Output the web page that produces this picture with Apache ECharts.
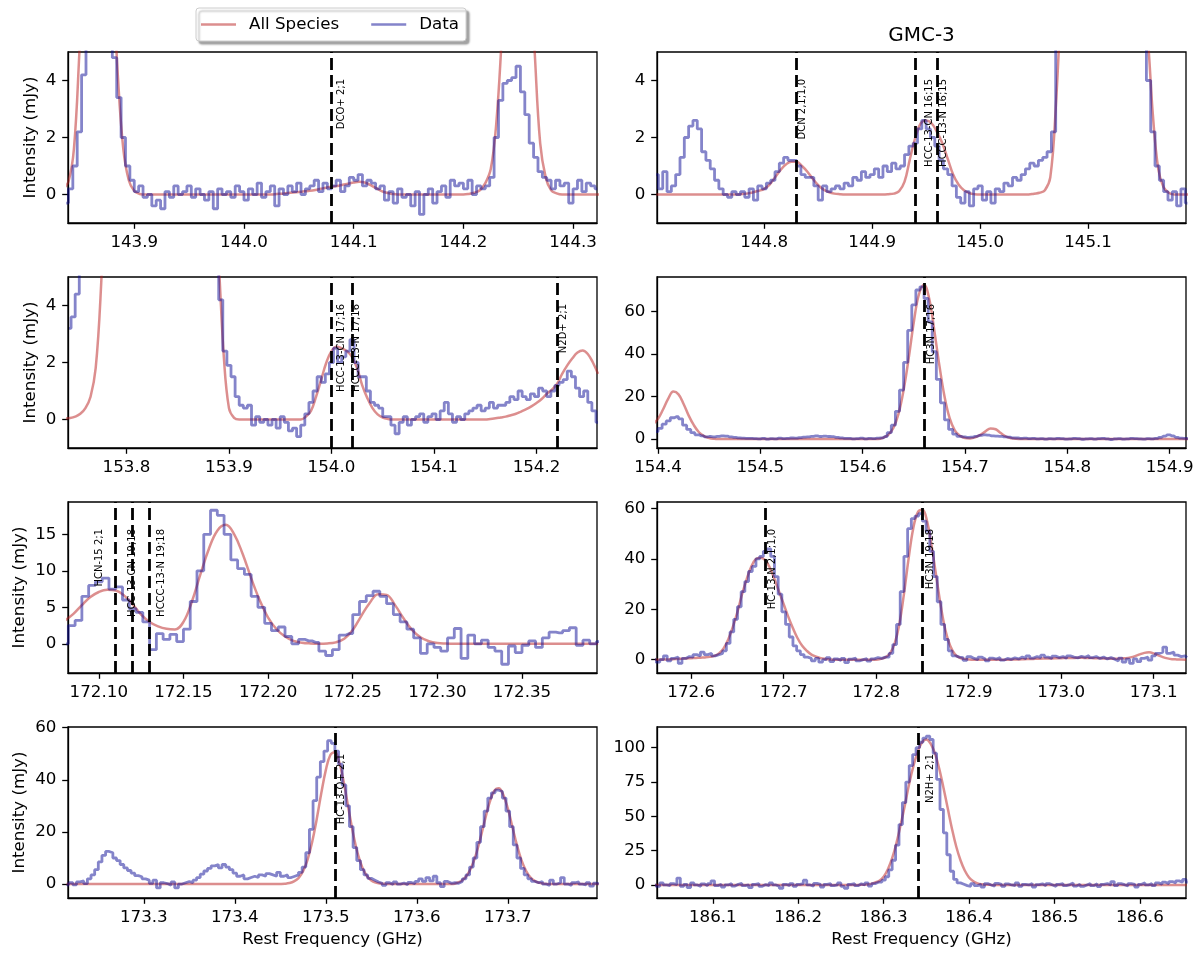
<!DOCTYPE html>
<html>
<head>
<meta charset="utf-8">
<title>GMC-3 spectra</title>
<script src="https://cdn.jsdelivr.net/npm/echarts@6/dist/echarts.min.js"></script>
<style>
  html, body { margin: 0; padding: 0; background: #fff; }
  #main { width: 1200px; height: 958px; }
</style>
</head>
<body>
<div id="main"></div>
<script>
// ---------------- data ----------------
// data: channel values on a regular grid (start freq, channel width)
// model: "All Species" fit, sampled on its own grid

// panel 1 : 143.84 - 144.32 GHz
var p1Freq0 = 143.838, p1Step = 0.004;
var p1Data = [
  -0.3,0.2,1.0,2.2,4.2,7.0,9.0,10.0,10.0,9.0,
  6.0,4.8,3.4,2.0,1.0,0.5,0.1,0.3,-0.1,0.0,
  -0.4,-0.2,-0.5,0.1,-0.1,0.3,0.0,0.1,0.3,-0.1,
  0.2,0.0,-0.2,0.1,-0.5,0.2,0.0,0.1,-0.1,0.3,
  0.1,-0.2,0.2,0.0,0.4,-0.1,0.1,0.3,-0.4,0.2,
  0.0,0.3,0.1,0.4,0.0,0.2,0.3,0.5,0.1,0.4,
  0.2,0.3,0.5,0.1,0.3,0.6,0.5,0.7,0.3,0.5,
  0.4,0.2,0.3,-0.2,0.1,-0.3,0.2,-0.1,0.0,-0.4,
  0.1,-0.7,0.0,0.2,-0.3,0.1,0.3,-0.1,0.5,0.3,
  0.4,0.2,0.5,0.0,0.3,0.2,0.3,0.6,2.0,3.3,
  3.9,4.0,4.1,4.5,3.6,2.8,1.8,1.3,0.8,0.6,
  0.5,0.2,0.5,0.3,0.4,-0.3,0.2,0.5,0.1,0.4,
  0.3,0.2
];
var p1ModelFreq0 = 143.835, p1ModelStep = 0.005;
var p1Model = [
  0.2,0.45,1.6,5.0,9,13,15,14,12,8,4.2,1.6,0.5,0.12,0.02,
  0,0,0,0,0,0,0,0,0,0,0,0,0,0,0,0,0,0,0,0,0,0,0,0,
  0.02,0.03,0.05,0.07,0.09,0.11,0.13,0.16,0.2,0.24,0.27,0.3,0.34,0.38,0.42,0.45,0.42,0.34,0.23,0.13,0.06,0.02,
  0,0,0,0,0,0,0,0,0,0,0,0,0,
  0.02,0.06,0.15,0.4,0.9,2.5,5.5,9,11,11.5,11,8.5,5.0,1.8,0.6,0.15,0.04,
  0,0,0,0,0,0,0,0
];

// panel 2 : 144.70 - 145.19 GHz
var p2Freq0 = 144.700, p2Step = 0.004;
var p2Data = [
  0.7,0.2,0.8,0.1,0.3,0.7,1.3,2.0,2.4,2.6,
  2.3,1.5,1.2,0.9,0.5,0.2,0.0,-0.1,0.1,0.0,
  0.1,-0.1,0.2,-0.2,0.3,0.2,0.4,0.5,0.8,1.1,
  1.3,1.2,1.2,1.0,0.7,0.6,0.6,0.3,-0.2,0.3,
  0.1,0.2,0.3,0.2,0.4,0.3,0.6,0.5,0.8,0.6,
  0.7,0.9,0.6,1.0,0.8,1.1,0.9,1.0,1.4,1.7,
  1.8,2.3,2.6,2.3,2.0,1.7,1.2,0.9,0.7,0.3,
  -0.1,-0.3,0.1,-0.4,0.2,0.3,-0.2,0.1,-0.3,0.2,
  0.1,0.4,0.3,0.6,0.5,0.7,0.9,1.1,1.0,1.2,
  1.3,1.5,2.2,5.5,12,20,28,34,38,40,
  41,40,38,35,31,27,22,18,14,11,
  8.5,7.5,7.0,5.8,4.0,2.2,1.0,0.5,0.1,-0.2,
  0.1,-0.4,0.2,-0.3
];
var p2ModelFreq0 = 144.700, p2ModelStep = 0.005;
var p2Model = [
  0,0,0,0,0,0,0,0,0,0,0,0,0,0,0,0,
  0.02,0.04,0.08,0.13,0.2,0.35,0.6,0.85,1.05,1.15,1.15,1.0,0.8,0.55,0.33,0.17,0.08,0.03,0.01,
  0,0,0,0,0,0,0,0,
  0.01,0.03,0.12,0.45,1.25,2.0,2.5,2.6,2.5,2.2,1.8,1.25,0.7,0.35,0.15,0.05,0.01,
  0,0,0,0,0,0,0,0,0,0,
  0.03,0.06,0.15,0.6,3.0,7,13,20,27,32,35,36,35,32,27,21,16,12,9.5,8,7,5.6,2.8,0.9,0.25,0.05,
  0,0,0,0
];

// panel 3 : 153.74 - 154.26 GHz
var p3Freq0 = 153.744, p3Step = 0.004;
var p3Data = [
  3.2,3.6,4.4,5.5,7,9,
  11,13,15,17,19,20,21,22,22,22,21,21,20,20,19,19,18,17,16,15,14,13,12,11,10,9,8.5,8,7,6.5,5.8,
  4.2,2.4,1.9,1.5,0.8,0.5,0.4,0.5,-0.2,0.1,
  -0.1,0.0,-0.2,0.0,-0.3,0.1,-0.1,-0.4,-0.3,-0.6,
  -0.2,0.2,0.6,1.0,1.5,1.3,1.6,2.0,2.5,2.0,
  2.2,2.4,2.8,2.0,1.5,1.5,1.0,0.6,0.5,0.4,
  0.1,0.1,-0.2,-0.5,-0.1,0.1,-0.2,0.0,0.1,0.2,
  -0.1,0.1,0.2,0.0,0.3,0.6,0.2,-0.1,0.1,0.0,
  0.2,0.3,0.4,0.5,0.3,0.4,0.6,0.4,0.5,0.5,
  0.6,0.8,0.7,1.0,0.8,0.7,0.9,0.8,1.1,1.0,
  0.8,1.0,1.2,1.3,1.4,1.7,1.5,1.1,0.8,1.0,
  0.6,0.3,-0.1
];
var p3ModelFreq0 = 153.740, p3ModelStep = 0.005;
var p3Model = [
  0.03,0.05,0.1,0.2,0.4,0.8,1.8,4.5,
  9,14,18,22,25,27,28,29,29,29,28,27,26,24,22,20,18,16,14,12,10,8,
  5.5,2.2,0.4,0.06,
  0,0,0,0,0,0,0,0,0,0,0,0,0,
  0.1,0.3,0.8,1.4,2.0,2.4,2.55,2.5,2.4,2.2,1.8,1.2,0.75,0.4,0.18,0.07,0.02,
  0,0,0,0,0,0,0,0,0,0,0,0,0,0,0,0,0,0,0,
  0.02,0.04,0.07,0.1,0.15,0.2,0.28,0.36,0.46,0.58,0.72,0.9,1.05,1.25,1.6,1.9,2.15,2.35,2.42,2.3,2.0,1.6
];

// panel 4 : 154.40 - 154.92 GHz
var p4Freq0 = 154.398, p4Step = 0.004;
var p4Data = [
  3.5,5,7,8.5,10,10.5,9.5,6.5,4.5,3,
  2,1.5,1.0,1.2,1.0,1.3,1.5,1.4,1.0,0.8,
  0.6,0.4,0.3,0.3,0.2,0.1,0.3,0.0,0.2,0.1,
  0.4,0.2,0.3,0.5,0.4,0.7,0.9,1.0,1.3,1.5,
  1.2,1.4,1.2,1.1,0.8,0.6,0.3,0.3,0.1,0.2,
  0.4,0.1,0.3,0.2,0.4,0.6,1.2,3,6.5,13,
  23,36,51,63,70,71.5,66,55,41,28,
  17,9,4.5,2.3,1.3,1.0,0.8,0.9,1.3,1.7,
  2.0,1.8,1.5,1.4,1.3,1.0,0.9,0.6,0.5,0.3,
  0.4,0.2,0.3,0.1,0.2,0.0,0.2,0.1,0.3,0.2,
  0.0,0.1,0.3,0.2,-0.1,0.1,0.2,0.0,0.2,0.3,
  0.1,-0.2,0.1,0.2,0.0,0.1,0.3,0.2,0.1,0.0,
  0.2,0.1,0.3,0.8,1.4,2.0,1.5,0.8,0.4,0.3,
  0.2
];
var p4ModelFreq0 = 154.395, p4ModelStep = 0.005;
var p4Model = [
  7,9.5,14,19,22.3,21,16.5,11,6.5,3.2,1.4,0.5,0.15,0.04,
  0,0,0,0,0,0,0,0,0,0,0,0,0,0,0,0,0,0,0,0,0,0,0,0,0,0,0,0,0,0,0,
  0.6,2.0,5.2,11.8,23,38,55,68,72.5,66,51,34.5,20,9.8,4.1,1.5,0.5,0.3,0.8,2.0,3.6,5.0,4.6,2.8,1.2,0.4,0.1,
  0,0,0,0,0,0,0,0,0,0,0,0,0,0,0,0,0,0,0,0,0,0,0,0,0,0,0,0,0,0,0,0,0,0
];

// panel 5 : 172.08 - 172.39 GHz
var p5Freq0 = 172.080, p5Step = 0.004;
var p5Data = [
  0.0,2.5,3.2,6.5,8.0,8.5,9.0,7.5,7.8,6.0,
  4.8,4.3,3.0,-0.8,1.4,0.6,1.3,0.3,2.0,5.8,
  10,15,18.3,17.6,15,11.5,10.3,9.5,6.5,5.0,
  2.8,1.8,2.3,1.0,0.0,0.6,0.4,0.2,-1.0,-1.6,
  -0.8,1.2,1.4,4.0,5.8,6.6,7.2,6.5,5.5,4.0,
  3.0,2.0,0.8,-1.3,0.0,-0.5,-1.0,0.8,2.1,-2.0,
  1.2,0.0,0.5,-0.5,-1.0,-2.8,-0.3,-1.2,-0.2,0.4,
  -0.5,0.8,1.6,1.5,1.8,2.2,-0.2,0.5,0.0,0.3
];
var p5ModelFreq0 = 172.080, p5ModelStep = 0.005;
var p5Model = [
  3.2,4.1,5.3,6.4,7.1,7.4,7.3,6.6,5.4,4.0,
  3.0,2.4,2.05,1.95,3.0,5.8,9.5,13,15.5,16.3,
  15,12.3,9.0,6.0,3.6,2.0,1.0,0.4,0.15,0.05,
  0.02,0.05,0.2,0.7,1.9,3.8,5.6,6.8,6.7,5.3,
  3.5,1.9,0.9,0.35,0.1,0.03,
  0,0,0,0,0,0,0,0,0,0,0,0,0,0,0,0,0,0
];

// panel 6 : 172.56 - 173.14 GHz
var p6Freq0 = 172.560, p6Step = 0.004;
var p6Data = [
  0.5,-1.0,0.0,1.5,-0.5,0.5,1.0,-1.5,0.5,1.2,
  1.0,2.0,1.5,3.0,2.0,2.5,1.5,2.0,2.5,3.5,
  6.5,11,16,21,27,31,35,37,40,41,
  43,44,41,33,26,19,14,9,5.5,3.5,
  2.0,1.0,0.5,
  -0.5,0.5,-1.0,0.0,0.8,-0.8,0.3,-0.3,0.5,-1.2,0.2,0.6,-0.5,0.0,0.4,-0.6,0.3,0.8,0.5,1.0,
  1.0,2.5,6,14,27,41,52,56,57,58,55,51,43,33,23,14,8,3.5,1.5,1.0,
  0.8,-0.3,1.2,0.5,0.0,1.0,0.3,-0.5,0.6,0.2,
  0.8,-0.2,0.5,0.1,0.7,0.3,1.0,0.4,1.5,0.6,
  1.2,0.8,1.8,1.0,0.5,1.4,0.8,1.2,0.6,1.5,
  1.0,0.7,1.3,0.9,1.6,0.8,1.2,0.5,1.0,0.3,
  0.8,0.2,-0.5,0.6,-1.0,0.2,-1.5,0.3,-0.8,0.5,
  1.0,-0.2,1.5,2.5,3.0,5.0,2.5,3.0,1.8,1.2,
  1.5,0.8
];
var p6ModelFreq0 = 172.560, p6ModelStep = 0.005;
var p6Model = [
  0,0,0.05,0.1,0.2,0.3,0.4,0.5,
  0.6,0.7,0.8,0.9,1.1,1.5,2.5,4.5,8,13,19,26,32,37,40,40.5,39.5,36.5,32,27,22,17,12.5,8.5,5.5,3.5,2.0,1.2,0.6,0.3,0.1,
  0,0,0,0,0,0,0,0,0,0,
  0.3,0.9,2.5,6.5,14,26,40,52,58.5,59.5,55,45,33,21,11.5,5.5,2.2,0.8,0.3,0.1,
  0,0,0,0,0,0,0,0,0,
  0.05,0.1,0.2,0.25,0.3,0.35,0.45,0.5,0.5,0.55,0.6,0.65,0.7,0.7,0.75,0.7,0.65,0.6,0.55,0.5,
  0.45,0.4,0.4,0.5,0.6,0.9,1.4,2.1,2.7,2.9,2.5,1.7,1.0,0.5,0.2,0.1,0.03,0.01
];

// panel 7 : 173.22 - 173.80 GHz
var p7Freq0 = 173.216, p7Step = 0.004;
var p7Data = [
  -0.8,0.5,-0.3,0.8,1.2,0.2,2.0,3.5,5.5,8.5,
  11,12.5,12,10,9,7.5,6.2,5.2,4.2,3.2,
  2.8,2.0,1.5,0.3,1.5,-1.5,0.5,0.2,-0.5,0.8,
  -1.5,0.0,0.5,1.0,0.5,1.5,2.5,3.8,5.0,6.0,
  7.0,7.5,6.2,7.5,6.5,5.5,4.2,3.0,3.5,2.0,
  2.5,3.0,2.5,3.5,3.0,4.0,3.5,3.0,4.5,3.0,
  3.5,2.5,3.0,3.5,4.5,6.5,12,21,32,41,
  47,51,55,54,51,46,38,30,22,14,
  9,5.5,3.5,2.2,1.5,0.8,0.3,-0.5,0.5,-0.2,
  0.8,0.0,0.4,-0.3,0.6,0.2,1.0,2.0,1.0,2.5,
  1.2,3.0,0.5,-1.0,1.0,0.3,0.5,0.3,1.0,2.0,
  3.5,6.5,10,16,22,28,33,35,36,35.5,
  33,28,22,15,10,6,3.5,2.0,1.0,0.5,
  1.0,0.0,-0.5,1.5,0.0,0.5,2.5,0.0,-0.5,0.5,
  0.8,0.0,-0.3,0.5,-0.8,0.3,0.0
];
var p7ModelFreq0 = 173.215, p7ModelStep = 0.005;
var p7Model = [
  0,0,0,0,0,0,0,0,0,0,0,0,0,0,0,0,0,0,0,0,0,0,0,
  0,0,0,0,0,0,0,0,0,0,0,0,0,0,0,0,0,0,0,0,0,0,0,
  0.01,0.04,0.13,0.38,1.0,2.3,4.9,9.4,16.1,24.9,34.8,43.7,49.5,50.6,46.5,38.6,28.8,19.4,11.8,6.5,3.2,1.4,0.56,0.2,0.07,
  0,0,0,0,0,0,0,0,0,0,0,0,0,0,0,
  0.6,1.5,3.3,6.4,11.3,17.7,24.8,31.3,35.7,36.8,34.3,29,22,15,9.2,5.1,2.5,1.1,0.45,0.15,
  0,0,0,0,0,0,0,0,0,0,0,0
];

// panel 8 : 186.03 - 186.65 GHz
var p8Freq0 = 186.032, p8Step = 0.004;
var p8Data = [
  0.5,-1.0,1.5,0.0,-0.5,1.0,0.2,5.0,-1.0,0.5,
  -2.0,1.5,0.0,-1.0,0.8,-0.5,1.0,3.0,-0.5,0.5,
  -1.5,0.0,1.0,-0.8,0.5,1.2,-0.5,0.0,-2.0,0.5,
  1.0,-1.0,0.3,-0.5,1.5,0.0,-1.0,-2.5,0.5,-0.5,
  1.0,-1.0,0.5,1.0,3.5,0.0,-0.8,1.2,0.5,-1.5,
  0.5,1.0,-0.5,0.0,1.5,-1.0,-2.5,0.5,1.0,-0.5,
  0.8,0.0,1.5,-0.8,1.0,2.0,
  2.0,3.5,6,11,18,29,44,60,75,87,95,100,104,107,108.5,106,96,77,55,38,22,10,4,1.5,0.5,-0.5,-1.0,
  1.0,-0.5,0.5,-1.5,1.0,0.0,-0.8,1.2,0.5,-1.0,
  0.8,0.0,-0.5,1.5,-1.0,0.5,0.0,1.0,-1.5,0.3,
  0.8,-0.5,1.0,0.0,-1.2,0.5,1.0,-0.5,0.3,1.5,
  -0.8,0.5,-1.0,0.0,1.0,-0.5,0.8,-1.2,0.5,1.0,
  0.0,2.5,-0.5,1.0,0.2,-0.8,1.0,0.5,-1.5,0.5,
  1.5,0.0,1.0,-0.5,1.5,0.5,2.0,1.0,2.5,1.5,
  3.0,2.0,4.0,2.0
];
var p8ModelFreq0 = 186.030, p8ModelStep = 0.005;
var p8Model = [
  0,0,0,0,0,0,0,0,0,0,0,0,0,0,0,0,0,0,0,0,0,0,0,0,0,
  0,0,0,0,0,0,0,0,0,0,0,0,0,0,0,0,0,0,0,0,0,0,0,0,
  0.1,0.3,0.8,1.8,3.0,6.0,11.5,19.5,30.5,44,58.5,74,87,97,104,106,103,96,85,71,56,41,28,18,10.5,5.5,2.7,1.2,0.5,0.2,0.07,
  0,0,0,0,0,0,0,0,0,0,0,0,0,0,0,0,0,0,0,0,0,0,0,
  0,0,0,0,0,0,0,0,0,0,0,0,0,0,0,0,0,0,0,0,0,0,0
];

// axis ranges and tick labels
var p1X = [143.8396, 144.3218], p1Y = [-1, 5];
var p2X = [144.7007, 145.1907], p2Y = [-1, 5];
var p3X = [153.743, 154.259],   p3Y = [-1, 5];
var p4X = [154.399, 154.916],   p4Y = [-4.2, 76.1];
var p5X = [172.0818, 172.3943], p5Y = [-4.0, 19.43];
var p6X = [172.563, 173.135],   p6Y = [-5.3, 62.6];
var p7X = [173.2167, 173.798],  p7Y = [-5.35, 60.25];
var p8X = [186.0347, 186.654],  p8Y = [-9.5, 115.1];

var p1XTicks = [143.9, 144.0, 144.1, 144.2, 144.3];
var p2XTicks = [144.8, 144.9, 145.0, 145.1];
var p3XTicks = [153.8, 153.9, 154.0, 154.1, 154.2];
var p4XTicks = [154.4, 154.5, 154.6, 154.7, 154.8, 154.9];
var p5XTicks = [172.10, 172.15, 172.20, 172.25, 172.30, 172.35];
var p6XTicks = [172.6, 172.7, 172.8, 172.9, 173.0, 173.1];
var p7XTicks = [173.3, 173.4, 173.5, 173.6, 173.7];
var p8XTicks = [186.1, 186.2, 186.3, 186.4, 186.5, 186.6];

var smallYTicks = [0, 2, 4];
var p4YTicks = [0, 20, 40, 60];
var p5YTicks = [0, 5, 10, 15];
var p6YTicks = [0, 20, 40, 60];
var p7YTicks = [0, 20, 40, 60];
var p8YTicks = [0, 25, 50, 75, 100];

// line identifications (rest frequency, label)
var p1Lines = [144.0805], p1LineNames = ['DCO+ 2;1'];
var p2Lines = [144.827, 144.9443, 144.958], p2LineNames = ['DCN 2,1;1,0', 'HCC-13-CN 16;15', 'HCCC-13-N 16;15'];
var p3Lines = [154.0008, 154.0158, 154.217], p3LineNames = ['HCC-13-CN 17;16', 'HCCC-13-N 17;16', 'N2D+ 2;1'];
var p4Lines = [154.658], p4LineNames = ['HC3N 17;16'];
var p5Lines = [172.1073, 172.1155, 172.1325], p5LineNames = ['HCN-15 2;1', 'HCC-13-CN 19;18', 'HCCC-13-N 19;18'];
var p6Lines = [172.678, 172.849], p6LineNames = ['HC-13-N 2,1;1,0', 'HC3N 19;18'];
var p7Lines = [173.5077], p7LineNames = ['HC-13-O+ 2;1'];
var p8Lines = [186.3446], p8LineNames = ['N2H+ 2;1'];

// ---------------- layout / style ----------------
var FONT = 'DejaVu Sans';
var MODEL_COLOR = 'rgba(185,30,30,0.5)';
var DATA_COLOR = 'rgba(10,10,150,0.5)';
var colLeft = [68, 657];
var rowTop = [52, 277, 502, 727];
var gridW = 529, gridH = 171;
var LABEL_DX = 9;                 // label centre, px right of its line
var p5LabelDx = [-11.5, 7.5, 7.5]; // first label of panel 5 sits left of its line

var panels = [
  {f0: p1Freq0, df: p1Step, data: p1Data, m0: p1ModelFreq0, dm: p1ModelStep, model: p1Model, x: p1X, y: p1Y, xt: p1XTicks, yt: smallYTicks, dec: 1, lines: p1Lines, names: p1LineNames, nameGap: 29},
  {f0: p2Freq0, df: p2Step, data: p2Data, m0: p2ModelFreq0, dm: p2ModelStep, model: p2Model, x: p2X, y: p2Y, xt: p2XTicks, yt: smallYTicks, dec: 1, lines: p2Lines, names: p2LineNames},
  {f0: p3Freq0, df: p3Step, data: p3Data, m0: p3ModelFreq0, dm: p3ModelStep, model: p3Model, x: p3X, y: p3Y, xt: p3XTicks, yt: smallYTicks, dec: 1, lines: p3Lines, names: p3LineNames, nameGap: 29},
  {f0: p4Freq0, df: p4Step, data: p4Data, m0: p4ModelFreq0, dm: p4ModelStep, model: p4Model, x: p4X, y: p4Y, xt: p4XTicks, yt: p4YTicks, dec: 1, lines: p4Lines, names: p4LineNames},
  {f0: p5Freq0, df: p5Step, data: p5Data, m0: p5ModelFreq0, dm: p5ModelStep, model: p5Model, x: p5X, y: p5Y, xt: p5XTicks, yt: p5YTicks, dec: 2, lines: p5Lines, names: p5LineNames, labelDx: p5LabelDx, nameGap: 39.5},
  {f0: p6Freq0, df: p6Step, data: p6Data, m0: p6ModelFreq0, dm: p6ModelStep, model: p6Model, x: p6X, y: p6Y, xt: p6XTicks, yt: p6YTicks, dec: 1, lines: p6Lines, names: p6LineNames},
  {f0: p7Freq0, df: p7Step, data: p7Data, m0: p7ModelFreq0, dm: p7ModelStep, model: p7Model, x: p7X, y: p7Y, xt: p7XTicks, yt: p7YTicks, dec: 1, lines: p7Lines, names: p7LineNames, nameGap: 39.5},
  {f0: p8Freq0, df: p8Step, data: p8Data, m0: p8ModelFreq0, dm: p8ModelStep, model: p8Model, x: p8X, y: p8Y, xt: p8XTicks, yt: p8YTicks, dec: 1, lines: p8Lines, names: p8LineNames}
];

// channel index -> [freq, value]
function toPairs(f0, step, vals) {
  var out = [];
  for (var i = 0; i < vals.length; i++) {
    out.push([f0 + i * step, vals[i]]);
  }
  return out;
}

function textStyle(size) {
  return { color: "#000", fontSize: size, fontFamily: FONT };
}

function init_spectra(container) {
  var chart = echarts.init(document.getElementById(container), null, { renderer: "canvas" });
  var grids = [], xAxes = [], yAxes = [], series = [];

  panels.forEach(function (p, i) {
    var col = i % 2, row = Math.floor(i / 2);
    grids.push({
      left: colLeft[col], top: rowTop[row], width: gridW, height: gridH,
      show: true, borderColor: "#000", borderWidth: 1.3, backgroundColor: "transparent",
    });
    xAxes.push({
      type: "value", gridIndex: i, min: p.x[0], max: p.x[1],
      axisLine: { onZero: false, lineStyle: { color: "#000", width: 1.3 } },
      axisTick: { inside: false, length: 5.8, customValues: p.xt, lineStyle: { color: "#000", width: 1.3 } },
      axisLabel: Object.assign(textStyle(16.7), {
        customValues: p.xt, margin: 11.6,
        formatter: function (v) { return v.toFixed(p.dec); },
      }),
      splitLine: { show: false },
      name: row === 3 ? "Rest Frequency (GHz)" : "",
      nameLocation: "middle", nameGap: 33,
      nameTextStyle: textStyle(16.7),
    });
    yAxes.push({
      type: "value", gridIndex: i, min: p.y[0], max: p.y[1],
      axisLine: { onZero: false, lineStyle: { color: "#000", width: 1.3 } },
      axisTick: { inside: false, length: 5.8, customValues: p.yt, lineStyle: { color: "#000", width: 1.3 } },
      axisLabel: Object.assign(textStyle(16.7), { customValues: p.yt, margin: 11.6 }),
      splitLine: { show: false },
      name: col === 0 ? "Intensity (mJy)" : "",
      nameLocation: "middle", nameGap: p.nameGap || 30,
      nameTextStyle: textStyle(16.7),
    });
    // model first, data drawn over it
    series.push({
      name: "All Species", type: "line", xAxisIndex: i, yAxisIndex: i,
      data: toPairs(p.m0, p.dm, p.model),
      smooth: 0.4, symbol: "none", silent: true,
      lineStyle: { color: MODEL_COLOR, width: 2.5 },
      itemStyle: { color: MODEL_COLOR },
      z: 2,
    });
    series.push({
      name: "Data", type: "line", xAxisIndex: i, yAxisIndex: i,
      data: toPairs(p.f0, p.df, p.data),
      step: "middle", symbol: "none", silent: true,
      lineStyle: { color: DATA_COLOR, width: 2.8 },
      itemStyle: { color: DATA_COLOR },
      z: 3,
      markLine: {
        silent: true, symbol: ["none", "none"], animation: false,
        label: { show: false },
        lineStyle: { color: "#000", width: 2.8, type: [12, 5] },
        data: p.lines.map(function (f) { return { xAxis: f }; }),
      },
    });
  });

  var option = {
    animation: false,
    backgroundColor: "#fff",
    legend: {
      data: ["All Species", "Data"],
      left: 196, top: 8,
      padding: [8, 7, 8, 5],
      icon: "rect",
      itemWidth: 35, itemHeight: 2.5, itemGap: 32,
      selectedMode: false,
      backgroundColor: "#fff", borderColor: "#ccc", borderWidth: 1, borderRadius: 3,
      shadowColor: "rgba(0,0,0,0.35)", shadowBlur: 2, shadowOffsetX: 3, shadowOffsetY: 3,
      textStyle: Object.assign(textStyle(16.7), { padding: [0, 0, 0, 8] }),
    },
    grid: grids,
    xAxis: xAxes,
    yAxis: yAxes,
    series: series,
  };
  chart.setOption(option);

  // rotated species labels next to each dashed line, plus the panel title
  var labels = [];
  panels.forEach(function (p, i) {
    var row = Math.floor(i / 2);
    p.lines.forEach(function (f, k) {
      var px = chart.convertToPixel({ xAxisIndex: i }, f);
      var dx = p.labelDx ? p.labelDx[k] : LABEL_DX;
      labels.push({
        type: "text", x: px + dx, y: rowTop[row] + 27, rotation: Math.PI / 2,
        silent: true, z: 100,
        style: {
          text: p.names[k], fill: "#000", fontSize: 10, fontFamily: FONT,
          align: "right", verticalAlign: "middle",
          textAlign: "right", textVerticalAlign: "middle",
        },
      });
    });
  });
  labels.push({
    type: "text", x: colLeft[1] + gridW / 2, y: 36, silent: true, z: 100,
    style: {
      text: "GMC-3", fill: "#000", fontSize: 20, fontFamily: FONT,
      align: "center", verticalAlign: "middle",
      textAlign: "center", textVerticalAlign: "middle",
    },
  });
  chart.setOption({ graphic: labels });
}

init_spectra("main");
</script>
</body>
</html>
